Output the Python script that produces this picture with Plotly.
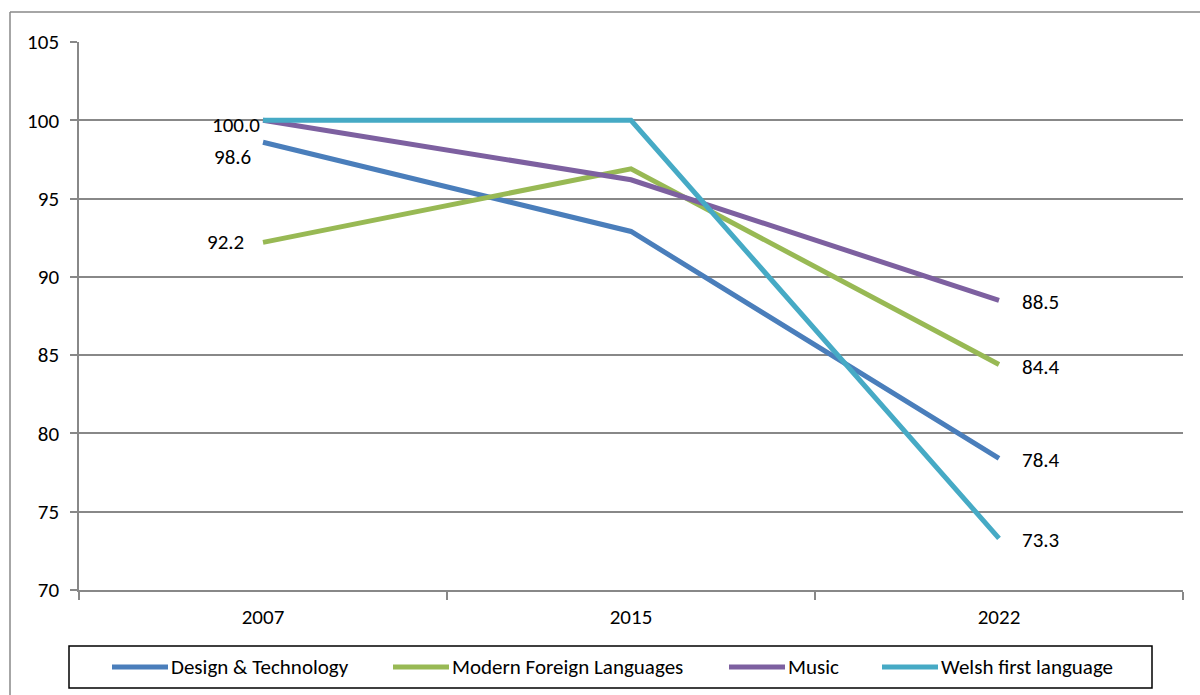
import plotly.graph_objects as go

# ---- data ----
years = ["2007", "2015", "2022"]
series_names = ["Design & Technology", "Modern Foreign Languages", "Music", "Welsh first language"]
design_technology = [98.6, 92.9, 78.4]
modern_foreign_languages = [92.2, 96.9, 84.4]
music = [100.0, 96.2, 88.5]
welsh_first_language = [100.0, 100.0, 73.3]
y_ticks = [70, 75, 80, 85, 90, 95, 100, 105]

series_values = [design_technology, modern_foreign_languages, music, welsh_first_language]
colors = ["#4A7EBB", "#98B954", "#7D60A0", "#46AAC5"]

FONT = "Carlito, Lato, sans-serif"
FS = 21
W, H = 1200, 695
L, R, T, B = 79, 17, 42, 105
PW, PH = W - L - R, H - T - B


def px_x(x):
    return (x - L) / PW


def px_y(y):
    return (H - B - y) / PH


fig = go.Figure()
for name, vals, col in zip(series_names, series_values, colors):
    fig.add_trace(go.Scatter(
        x=years, y=vals, name=name, mode="lines",
        line=dict(color=col, width=5), showlegend=False,
        hoverinfo="x+y+name",
    ))

annotations = []
first_i, last_i = 0, len(years) - 1
# value labels at the first year (left of point); offsets avoid overlaps
first_labels = [(0, -10, -15), (1, -17, 0), (3, -1, -5)]
for si, xs, ys in first_labels:
    v = series_values[si][first_i]
    annotations.append(dict(
        x=first_i, y=v, xref="x", yref="y", text=f"{v:.1f}",
        showarrow=False, xanchor="right", yanchor="middle",
        xshift=xs, yshift=ys, font=dict(family=FONT, size=FS, color="#000"),
    ))
# value labels at the last year (right of point)
for si in range(4):
    v = series_values[si][last_i]
    annotations.append(dict(
        x=last_i, y=v, xref="x", yref="y", text=f"{v:.1f}",
        showarrow=False, xanchor="left", yanchor="middle",
        xshift=21, yshift=-2, font=dict(family=FONT, size=FS, color="#000"),
    ))

shapes = []
# outer chart frame (left and top edges)
frame_col = "#888888"
shapes.append(dict(type="line", xref="paper", yref="paper",
                   x0=px_x(10), x1=px_x(10), y0=px_y(12), y1=px_y(720),
                   line=dict(color=frame_col, width=1.5)))
shapes.append(dict(type="line", xref="paper", yref="paper",
                   x0=px_x(10), x1=px_x(1220), y0=px_y(12), y1=px_y(12),
                   line=dict(color=frame_col, width=1.5)))

# legend box with line samples
shapes.append(dict(type="rect", xref="paper", yref="paper",
                   x0=px_x(69), x1=px_x(1152), y0=px_y(646), y1=px_y(688),
                   line=dict(color="#000000", width=1.5), fillcolor="rgba(0,0,0,0)"))
legend_starts = [112, 393, 729, 882]
legend_y = 667
for name, col, xs in zip(series_names, colors, legend_starts):
    shapes.append(dict(type="line", xref="paper", yref="paper",
                       x0=px_x(xs), x1=px_x(xs + 56), y0=px_y(legend_y), y1=px_y(legend_y),
                       line=dict(color=col, width=5)))
    annotations.append(dict(
        x=px_x(xs + 57), y=px_y(legend_y), xref="paper", yref="paper",
        text=name, showarrow=False, xanchor="left", yanchor="middle",
        font=dict(family=FONT, size=FS, color="#000"),
    ))

fig.update_layout(
    width=W, height=H,
    margin=dict(l=L, r=R, t=T, b=B, pad=0),
    paper_bgcolor="white", plot_bgcolor="white",
    font=dict(family=FONT, size=FS, color="#000"),
    showlegend=False,
    annotations=annotations,
    shapes=shapes,
)
fig.update_xaxes(
    type="category", range=[-0.5, 2.5],
    showgrid=False, showline=True, linecolor="#888888", linewidth=1.5,
    ticks="outside", tickson="boundaries", ticklen=8, tickcolor="#888888", tickwidth=1.5,
    ticklabelstandoff=7,
    tickfont=dict(family=FONT, size=FS, color="#000"),
    zeroline=False,
)
fig.update_yaxes(
    range=[70, 105], tickvals=y_ticks,
    showgrid=True, gridcolor="#888888", gridwidth=1.5,
    showline=True, linecolor="#888888", linewidth=1.5,
    ticks="outside", ticklen=7, tickcolor="#888888", tickwidth=1.5,
    ticklabelstandoff=7,
    tickfont=dict(family=FONT, size=FS, color="#000"),
    zeroline=False,
)

fig.write_html("out.html")
